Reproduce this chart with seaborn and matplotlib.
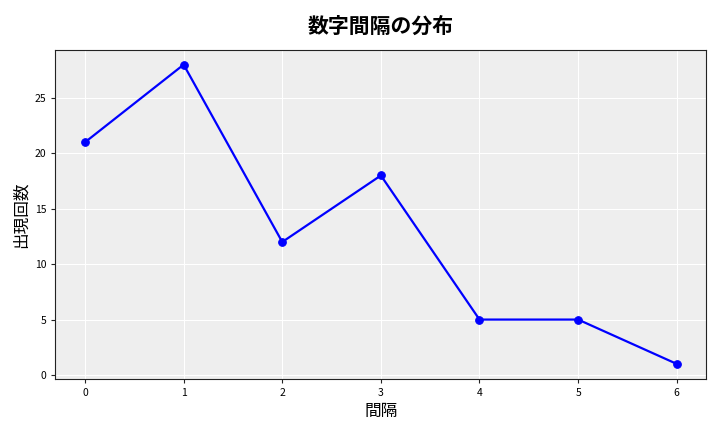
import matplotlib
matplotlib.use("Agg")
import matplotlib.pyplot as plt
import seaborn as sns
import pandas as pd

intervals = [0, 1, 2, 3, 4, 5, 6]
counts = [21, 28, 12, 18, 5, 5, 1]

df = pd.DataFrame({"間隔": intervals, "出現回数": counts})

sns.set_style("darkgrid", {"axes.facecolor": "#EEEEEE", "grid.color": "white",
                           "axes.edgecolor": "#222222", "axes.linewidth": 1.2,
                           "xtick.bottom": True, "ytick.left": True,
                           "text.color": "black", "axes.labelcolor": "black",
                           "xtick.color": "black", "ytick.color": "black"})
plt.rcParams["font.family"] = ["Noto Sans CJK JP", "DejaVu Sans"]

fig, ax = plt.subplots(figsize=(7.2, 4.32), dpi=100)
sns.lineplot(data=df, x="間隔", y="出現回数", color="blue", linewidth=1.6,
             marker="o", markersize=5.5, markeredgecolor="blue", ax=ax)
ax.set_title("数字間隔の分布", fontsize=15, fontweight="bold", pad=12)
ax.set_xlabel("間隔", fontsize=12)
ax.set_ylabel("出現回数", fontsize=12)
ax.tick_params(labelsize=7.5, length=3, color="#222222")
ax.set_xticks(intervals)
fig.subplots_adjust(left=0.077, right=0.981, top=0.885, bottom=0.123)
fig.savefig("out.png")
